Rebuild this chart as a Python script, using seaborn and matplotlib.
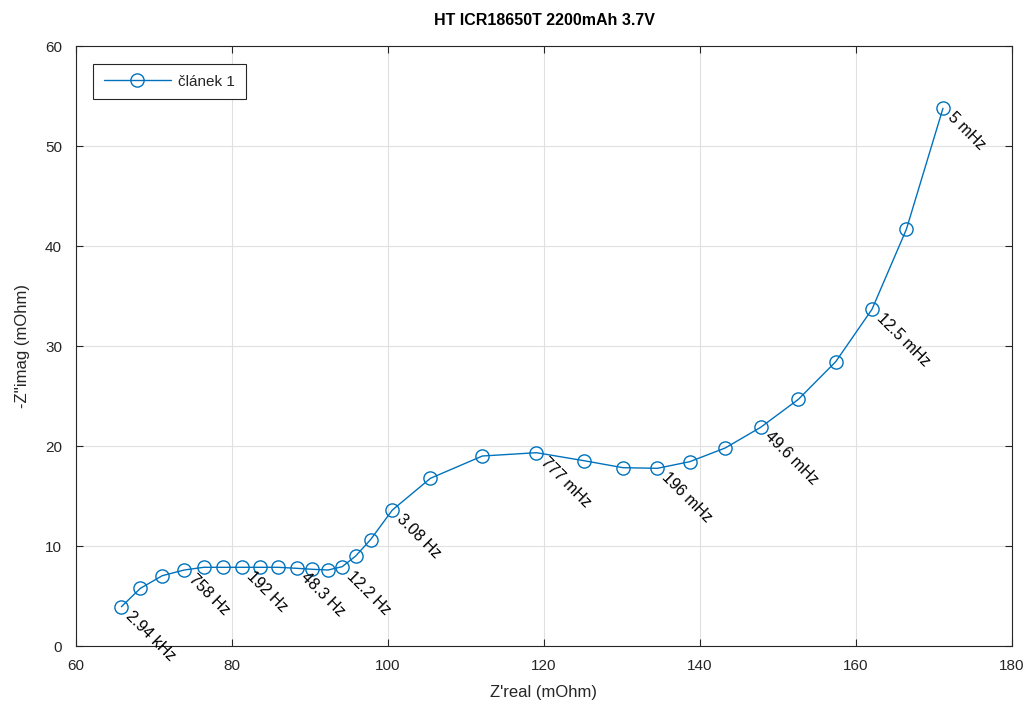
import matplotlib
matplotlib.use("Agg")
import matplotlib.pyplot as plt
import seaborn as sns
import pandas as pd

z_real = [65.82, 68.26, 71.06, 73.88, 76.37, 78.85, 81.29, 83.55, 85.90, 88.29,
          90.31, 92.32, 94.12, 95.86, 97.78, 100.56, 105.44, 112.10, 119.03, 125.13,
          130.13, 134.54, 138.68, 143.23, 147.78, 152.62, 157.40, 162.05, 166.46, 171.15]
z_imag = [3.93, 5.77, 7.03, 7.60, 7.87, 7.87, 7.87, 7.87, 7.87, 7.77,
          7.67, 7.60, 7.93, 9.00, 10.65, 13.60, 16.77, 19.00, 19.33, 18.53,
          17.83, 17.77, 18.43, 19.80, 21.87, 24.67, 28.43, 33.67, 41.67, 53.77]
label_idx = [0, 3, 6, 9, 12, 15, 18, 21, 24, 27, 29]
label_txt = ["2.94 kHz", "758 Hz", "192 Hz", "48.3 Hz", "12.2 Hz", "3.08 Hz",
             "777 mHz", "196 mHz", "49.6 mHz", "12.5 mHz", "5 mHz"]
series_name = "článek 1"
title = "HT ICR18650T 2200mAh 3.7V"

sns.set_theme(style="white")
plt.rcParams['font.family'] = ['Liberation Sans', 'DejaVu Sans']

df = pd.DataFrame({"x": z_real, "y": z_imag, "s": series_name})

fig = plt.figure(figsize=(10.24, 7.04), dpi=100)
ax = fig.add_axes([76 / 1024, 1 - 646 / 704, (1012 - 76) / 1024, (646 - 46) / 704])

blue = "#0072BD"
sns.lineplot(data=df, x="x", y="y", hue="s", palette=[blue], sort=False,
             marker="o", markersize=9.5, markerfacecolor="none",
             markeredgecolor=blue, markeredgewidth=1.0, linewidth=1.0, ax=ax)

for i, t in zip(label_idx, label_txt):
    ax.annotate(t, (z_real[i], z_imag[i]), xytext=(5, -5), textcoords="offset points",
                rotation=-45, rotation_mode="anchor", ha="left", va="center",
                fontsize=11.5, color="black")

ax.set_xlim(60, 180)
ax.set_ylim(0, 60)
ax.set_xticks(range(60, 181, 20))
ax.set_yticks(range(0, 61, 10))
ax.grid(True, color="#e0e0e0", linewidth=0.8)
for sp in ax.spines.values():
    sp.set_visible(True)
    sp.set_color("#262626")
    sp.set_linewidth(0.8)
ax.tick_params(direction="in", length=5, width=0.8, color="#262626",
               labelsize=11, labelcolor="#262626", top=True, right=True,
               bottom=True, left=True)
ax.tick_params(axis="x", pad=9)
ax.tick_params(axis="y", pad=10)

ax.set_xlabel("Z'real (mOhm)", fontsize=12, color="#262626", labelpad=9)
ax.set_ylabel("-Z''imag (mOhm)", fontsize=12, color="#262626", labelpad=11)
ax.set_title(title, fontsize=11.5, fontweight="bold", color="black", pad=15)

leg = ax.legend(loc="upper left", bbox_to_anchor=(0.018, 0.97), fontsize=11,
                frameon=True, fancybox=False, shadow=False, handlelength=4.4,
                handletextpad=0.5, borderpad=0.7, borderaxespad=0)
leg.get_frame().set_edgecolor("#262626")
leg.get_frame().set_linewidth(0.8)
leg.get_frame().set_facecolor("white")
leg.get_frame().set_alpha(1)

fig.savefig("out.png", dpi=100)
